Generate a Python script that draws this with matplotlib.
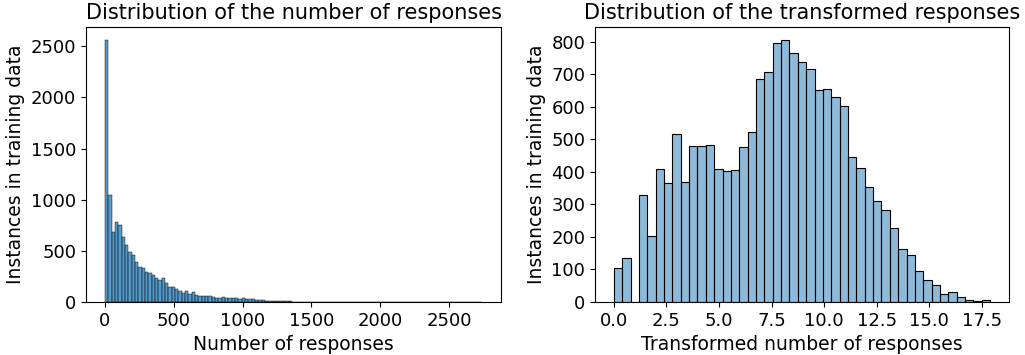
import matplotlib.pyplot as plt
import numpy as np

# left panel: raw number of responses, 113 equal bins over [0, 2740]
raw_lo, raw_hi = 0, 2740
raw_counts = [
    2560, 1046, 687, 779, 753, 638, 557, 492, 459, 394,
    340, 329, 296, 280, 264, 231, 215, 231, 183, 150,
    143, 124, 110, 85, 111, 78, 95, 65, 62, 62,
    60, 55, 52, 42, 40, 52, 42, 40, 36, 35,
    30, 36, 28, 26, 25, 22, 20, 18, 14, 10,
    8, 7, 6, 6, 5, 5, 4, 4, 3, 3,
    3, 2, 3, 2, 2, 2, 0, 0, 0, 2,
    1, 0, 1, 2, 1, 1, 1, 0, 1, 2,
    1, 0, 0, 0, 0, 0, 0, 0, 0, 0,
    0, 0, 0, 0, 0, 0, 0, 0, 0, 0,
    0, 0, 0, 0, 0, 0, 0, 0, 0, 0,
    0, 0, 1,
]

# right panel: transformed responses, 45 equal bins over [0, 17.9]
tr_lo, tr_hi = 0.0, 17.9
tr_counts = [
    103, 135, 0, 330, 202, 409, 367, 516, 370, 478,
    478, 484, 410, 404, 407, 475, 524, 684, 706, 795,
    805, 766, 738, 715, 651, 654, 630, 602, 445, 413,
    352, 310, 283, 228, 164, 146, 96, 69, 51, 24,
    30, 14, 5, 2, 5,
]

FACE = '#1f77b4'


def draw_hist(ax, lo, hi, counts, alpha, lw):
    edges = np.linspace(lo, hi, len(counts) + 1)
    ax.bar(edges[:-1], counts, width=np.diff(edges), align='edge',
           facecolor=(*plt.matplotlib.colors.to_rgb(FACE), alpha),
           edgecolor='black', linewidth=lw)
    span = hi - lo
    ax.set_xlim(lo - 0.05 * span, hi + 0.05 * span)
    ax.set_ylim(0, max(counts) * 1.05)


fig = plt.figure(figsize=(10.25, 3.55), dpi=100)
ax1 = fig.add_axes([0.0839, 0.1493, 0.4049, 0.7746])
ax2 = fig.add_axes([0.5805, 0.1493, 0.4039, 0.7746])

draw_hist(ax1, raw_lo, raw_hi, raw_counts, 0.75, 0.3)
draw_hist(ax2, tr_lo, tr_hi, tr_counts, 0.5, 0.8)

ax1.set_title('Distribution of the number of responses', fontsize=15)
ax1.set_xlabel('Number of responses', fontsize=13.5)
ax1.set_ylabel('Instances in training data', fontsize=13.5)
ax1.set_xticks([0, 500, 1000, 1500, 2000, 2500])

ax2.set_title('Distribution of the transformed responses', fontsize=15)
ax2.set_xlabel('Transformed number of responses', fontsize=13.5)
ax2.set_ylabel('Instances in training data', fontsize=13.5)
ax2.set_xticks([0.0, 2.5, 5.0, 7.5, 10.0, 12.5, 15.0, 17.5])
ax2.set_yticks(range(0, 801, 100))

for ax in (ax1, ax2):
    ax.tick_params(labelsize=13)

fig.savefig('out.png', dpi=100)
